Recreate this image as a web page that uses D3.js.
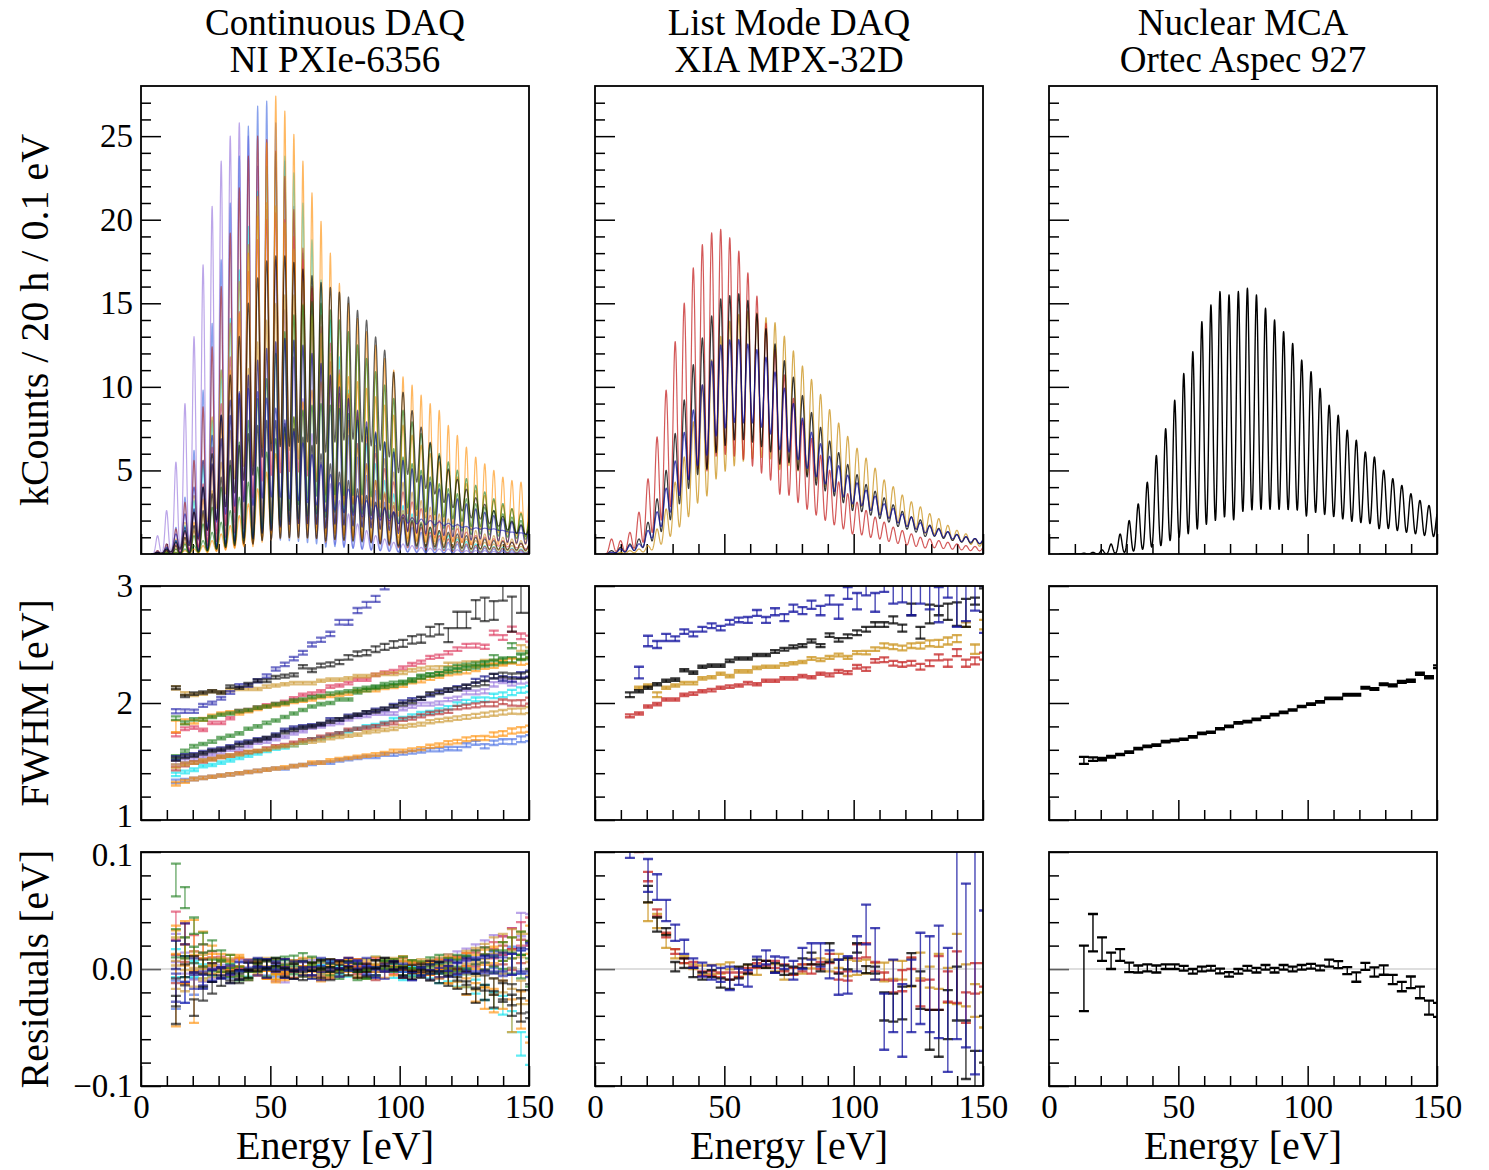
<!DOCTYPE html>
<html>
<head>
<meta charset="utf-8">
<script src="https://cdnjs.cloudflare.com/ajax/libs/d3/7.8.5/d3.min.js"></script>
<style>
  body { margin: 0; background: #fff; }
  svg text { font-family: "Liberation Serif", "Times New Roman", Times, serif; fill: #000; }
</style>
</head>
<body>
<svg id="fig" width="1489" height="1170"></svg>
<script>
// ---------------------------------------------------------------------------
// data
// ---------------------------------------------------------------------------

// photo-peak energies in eV, peak number n = 2 .. 43
const peakEnergy = [6.4, 9.9, 13.5, 17.0, 20.5, 24.0, 27.5, 31.0, 34.5, 38.0,
  41.5, 45.1, 48.6, 52.1, 55.6, 59.1, 62.6, 66.1, 69.6, 73.2,
  76.7, 80.2, 83.7, 87.2, 90.7, 94.2, 97.7, 101.3, 104.8, 108.3,
  111.8, 115.3, 118.8, 122.3, 125.8, 129.4, 132.9, 136.4, 139.9, 143.4,
  146.9, 150.4];
// FWHM / residual points are fitted for n = 4 .. 43
const fitEnergy = peakEnergy.slice(2);

const columnTitles = [
  ["Continuous DAQ", "NI PXIe-6356"],
  ["List Mode DAQ", "XIA MPX-32D"],
  ["Nuclear MCA", "Ortec Aspec 927"]
];
const energyTicks = [0, 50, 100, 150];
const countTicks = [5, 10, 15, 20, 25];
const fwhmTicks = [1, 2, 3];
const residTicks = [-0.1, 0, 0.1];

// --- column 1: continuous DAQ, peak amplitudes [kCounts] for n = 2..43 ---
const c1PurpleAmp = [1.1,2.6,5.5,9.0,13.0,17.3,20.8,23.5,25.0,25.8,25.0,23.2,20.6,17.6,14.6,11.8,9.3,7.2,5.5,4.2,3.2,2.4,1.8,1.4,1.1,0.9,0.7,0.6,0.5,0.4,0.35,0.3,0.3,0.25,0.2,0.2,0.2,0.15,0.15,0.1,0.1,0.1];
const c1RoyalAmp = [0.2,0.6,1.6,3.4,6.2,9.8,13.8,17.6,21.0,23.8,25.6,26.8,27.1,25.8,23.5,20.8,18.0,15.3,12.8,10.6,8.7,7.1,5.8,4.7,3.8,3.1,2.5,2.0,1.6,1.3,1.1,0.9,0.7,0.6,0.5,0.4,0.35,0.3,0.25,0.2,0.18,0.15];
const c1CyanAmp = [0.1,0.3,0.8,1.7,3.2,5.3,8.0,11.0,14.1,17.0,19.6,21.7,23.2,24.0,23.8,22.8,21.0,18.8,16.4,14.0,11.8,9.8,8.1,6.6,5.4,4.4,3.6,2.9,2.4,1.9,1.6,1.3,1.1,0.9,0.75,0.6,0.5,0.45,0.4,0.35,0.3,0.25];
const c1FirebrickAmp = [0.2,0.6,1.5,3.1,5.6,8.8,12.4,16.0,19.2,21.9,23.8,25.0,24.8,24.1,22.6,20.6,18.3,15.9,13.6,11.5,9.6,8.0,6.6,5.4,4.4,3.6,2.9,2.4,1.9,1.6,1.3,1.1,0.9,0.75,0.6,0.5,0.45,0.4,0.35,0.3,0.25,0.2];
const c1CrimsonAmp = [0.1,0.2,0.6,1.3,2.5,4.2,6.4,9.0,11.8,14.5,16.9,18.8,20.0,20.4,20.0,19.0,17.6,16.0,14.3,12.6,11.0,9.5,8.2,7.0,6.0,5.1,4.3,3.7,3.1,2.7,2.3,2.0,1.7,1.5,1.3,1.1,1.0,0.9,0.8,0.7,0.6,0.55];
const c1GoldAmp = [0.1,0.3,0.9,1.9,3.5,5.6,8.2,11.0,13.8,16.3,18.5,20.2,21.0,20.8,19.8,18.2,16.3,14.3,12.3,10.5,8.9,7.5,6.3,5.3,4.4,3.7,3.1,2.6,2.2,1.9,1.6,1.4,1.2,1.0,0.9,0.8,0.7,0.6,0.55,0.5,0.45,0.4];
const c1Gold2Amp = [0,0.1,0.3,0.7,1.4,2.4,3.8,5.5,7.4,9.3,11.1,12.7,14.0,15.0,15.5,15.5,15.0,14.2,13.2,12.0,10.8,9.6,8.5,7.5,6.5,5.7,4.9,4.3,3.7,3.2,2.8,2.4,2.1,1.8,1.6,1.4,1.2,1.1,1.0,0.9,0.8,0.7];
const c1OrangeAmp = [0.1,0.2,0.5,1.0,1.9,3.3,5.3,7.9,11.0,14.4,18.0,21.4,24.6,27.4,26.5,25.1,23.5,21.6,19.9,18.0,16.2,15.0,14.1,13.3,12.5,11.7,11.0,10.6,10.1,9.5,9.0,8.6,7.7,7.1,6.4,5.8,5.4,5.0,4.6,4.4,4.3,4.0];
const c1DarkOrangeAmp = [0,0.05,0.1,0.2,0.3,0.5,0.8,1.2,1.7,2.3,3.0,3.9,4.9,6.0,7.2,8.2,9.1,9.8,10.3,10.6,10.7,10.6,10.3,9.9,9.4,8.9,8.3,7.7,7.1,6.5,6.0,5.5,5.0,4.6,4.2,3.8,3.5,3.2,2.9,2.7,2.5,2.3];
const c1GreenAmp = [0,0.1,0.3,0.6,1.1,1.8,2.8,4.0,5.3,6.7,8.0,9.3,10.5,12.0,13.3,14.3,14.9,15.1,15.0,14.6,14.0,13.3,12.5,11.7,10.9,10.1,9.3,8.6,7.9,7.2,6.6,6.0,5.5,5.0,4.5,4.1,3.7,3.3,3.0,2.7,2.4,2.2];
const c1Green2Amp = [0,0.05,0.1,0.3,0.5,0.8,1.3,1.9,2.6,3.4,4.3,5.2,6.1,6.9,7.6,8.2,8.6,8.9,9.0,8.9,8.7,8.4,8.0,7.6,7.2,6.7,6.3,5.8,5.4,5.0,4.6,4.2,3.9,3.6,3.3,3.0,2.8,2.6,2.4,2.2,2.0,1.9];
const c1NavyAmp = [0.1,0.3,0.8,1.6,2.7,4.0,5.4,6.9,8.3,9.6,10.7,11.6,12.3,12.7,12.9,12.8,12.5,12.0,11.4,10.7,10.0,9.3,8.6,7.9,7.3,6.7,6.1,5.6,5.1,4.7,4.3,3.9,3.6,3.3,3.0,2.7,2.5,2.3,2.1,1.9,1.7,1.6];
const c1Black2Amp = [0.1,0.2,0.5,1.0,1.7,2.6,3.6,4.6,5.6,6.5,7.2,7.7,8.0,8.0,7.8,7.5,7.0,6.5,6.0,5.4,4.9,4.4,3.9,3.5,3.1,2.8,2.5,2.2,2.0,1.8,1.6,1.4,1.3,1.2,1.1,1.0,0.9,0.8,0.75,0.7,0.65,0.6];
const c1BlueAmp = [0.1,0.4,1.2,2.4,4.0,5.6,7.1,8.3,9.2,9.7,9.9,9.7,9.3,8.7,8.0,7.3,6.6,5.9,5.3,4.7,4.2,3.8,3.4,3.1,2.8,2.6,2.4,2.2,2.0,1.9,1.8,1.7,1.6,1.5,1.4,1.3,1.25,1.2,1.1,1.0,0.95,0.9];
const c1BlackAmp = [0.1,0.3,0.7,1.4,2.5,4.0,6.0,8.3,10.7,13.0,15.0,16.5,17.5,17.8,17.8,17.4,17.0,16.6,16.2,15.9,15.6,15.3,14.5,13.9,12.9,12.1,10.8,9.6,8.5,7.5,6.6,5.8,5.0,4.4,3.8,3.3,2.9,2.5,2.2,1.9,1.7,1.5];

// --- column 1: FWHM [eV] for n = 4..43 ---
const c1BlueFwhm = [1.93,1.93,1.93,1.98,2.00,2.04,2.09,2.15,2.15,2.19,2.23,2.29,2.33,2.38,2.43,2.50,2.54,2.59,2.69,2.69,2.79,2.84,2.89,3.00,3.08,3.17,3.26,3.35,3.44,3.53,3.62,3.71,3.80,3.89,3.98,4.07,4.16,4.25,4.34,4.43];
const c1BlackFwhm = [2.13,2.06,2.08,2.09,2.10,2.09,2.14,2.13,2.16,2.19,2.19,2.22,2.23,2.24,2.31,2.28,2.32,2.33,2.35,2.39,2.42,2.43,2.46,2.48,2.50,2.51,2.54,2.55,2.61,2.63,2.58,2.71,2.71,2.80,2.80,2.79,2.94,2.76,2.89,2.92];
const c1GoldFwhm = [2.13,2.08,2.07,2.08,2.10,2.09,2.11,2.12,2.12,2.12,2.14,2.15,2.16,2.17,2.17,2.17,2.19,2.20,2.20,2.21,2.23,2.23,2.24,2.25,2.25,2.26,2.28,2.29,2.30,2.30,2.33,2.33,2.34,2.34,2.35,2.35,2.35,2.36,2.47,2.45];
const c1CrimsonFwhm = [1.73,1.78,1.79,1.77,1.83,1.83,1.87,1.93,1.94,1.96,1.98,1.99,2.01,2.04,2.07,2.08,2.10,2.14,2.15,2.17,2.20,2.20,2.24,2.26,2.27,2.30,2.33,2.35,2.39,2.40,2.43,2.46,2.49,2.49,2.48,2.60,2.56,2.63,2.57,2.55];
const c1DarkOrangeFwhm = [1.80,1.84,1.84,1.86,1.89,1.91,1.92,1.91,1.93,1.95,1.97,1.98,1.99,2.01,2.02,2.03,2.05,2.06,2.07,2.08,2.10,2.11,2.11,2.13,2.14,2.15,2.18,2.19,2.21,2.23,2.25,2.26,2.27,2.29,2.31,2.32,2.34,2.36,2.35,2.36];
const c1GreenFwhm = [1.54,1.59,1.63,1.65,1.67,1.70,1.72,1.74,1.78,1.80,1.83,1.85,1.88,1.91,1.94,1.97,1.99,2.00,2.03,2.03,2.09,2.11,2.13,2.14,2.15,2.17,2.19,2.23,2.24,2.25,2.29,2.31,2.32,2.33,2.34,2.39,2.37,2.49,2.40,2.42];
const c1NavyFwhm = [1.53,1.55,1.56,1.58,1.60,1.61,1.63,1.66,1.67,1.69,1.70,1.73,1.77,1.79,1.80,1.81,1.82,1.86,1.86,1.89,1.90,1.92,1.94,1.95,1.98,2.01,2.03,2.04,2.07,2.10,2.11,2.13,2.14,2.19,2.21,2.23,2.21,2.20,2.24,2.25];
const c1Black2Fwhm = [1.52,1.54,1.55,1.57,1.59,1.60,1.62,1.64,1.66,1.68,1.70,1.72,1.75,1.77,1.79,1.80,1.82,1.84,1.86,1.88,1.90,1.92,1.93,1.95,1.97,1.99,2.01,2.04,2.08,2.09,2.11,2.12,2.14,2.16,2.17,2.23,2.24,2.23,2.23,2.24];
const c1PurpleFwhm = [1.49,1.51,1.52,1.54,1.56,1.58,1.60,1.61,1.63,1.66,1.67,1.69,1.71,1.74,1.76,1.79,1.80,1.82,1.83,1.86,1.88,1.89,1.91,1.91,1.91,1.95,1.97,1.99,1.99,2.00,2.03,2.04,2.09,2.09,2.10,2.16,2.19,2.17,2.19,2.20];
const c1FirebrickFwhm = [1.44,1.47,1.49,1.50,1.52,1.54,1.55,1.57,1.58,1.59,1.61,1.63,1.64,1.66,1.68,1.69,1.71,1.73,1.74,1.77,1.78,1.79,1.80,1.82,1.83,1.86,1.87,1.89,1.91,1.92,1.93,1.96,1.97,1.98,1.99,1.99,2.01,2.00,2.00,2.02];
const c1CyanFwhm = [1.39,1.41,1.43,1.46,1.47,1.49,1.51,1.53,1.55,1.57,1.59,1.61,1.62,1.64,1.66,1.69,1.70,1.72,1.74,1.76,1.78,1.80,1.81,1.83,1.86,1.87,1.89,1.91,1.92,1.94,1.96,1.99,2.01,2.03,2.03,2.06,2.07,2.09,2.11,2.12];
const c1RoyalFwhm = [1.33,1.34,1.35,1.36,1.37,1.38,1.39,1.40,1.41,1.42,1.43,1.44,1.44,1.46,1.47,1.48,1.49,1.49,1.51,1.52,1.53,1.54,1.54,1.56,1.56,1.57,1.58,1.59,1.60,1.60,1.61,1.61,1.64,1.66,1.63,1.66,1.67,1.67,1.69,1.70];
const c1OrangeFwhm = [1.31,1.33,1.35,1.36,1.37,1.38,1.39,1.40,1.41,1.42,1.43,1.44,1.45,1.46,1.47,1.49,1.49,1.51,1.52,1.53,1.54,1.55,1.56,1.57,1.59,1.59,1.60,1.61,1.63,1.64,1.66,1.67,1.69,1.70,1.70,1.73,1.74,1.76,1.77,1.78];
const c1Gold2Fwhm = [1.46,1.48,1.49,1.51,1.52,1.54,1.55,1.56,1.58,1.59,1.60,1.62,1.63,1.64,1.66,1.67,1.68,1.70,1.71,1.72,1.73,1.75,1.76,1.77,1.78,1.80,1.81,1.82,1.84,1.85,1.86,1.87,1.88,1.89,1.90,1.91,1.92,1.93,1.93,1.94];
const c1Green2Fwhm = [1.87,1.83,1.86,1.86,1.88,1.90,1.91,1.93,1.94,1.96,1.97,1.99,2.00,2.02,2.03,2.05,2.06,2.08,2.09,2.10,2.12,2.13,2.14,2.16,2.17,2.18,2.20,2.22,2.24,2.25,2.27,2.28,2.30,2.31,2.33,2.34,2.36,2.37,2.39,2.40];

// FWHM uncertainties [eV]
const c1FwhmErr = [0.015,0.012,0.011,0.01,0.01,0.01,0.01,0.01,0.01,0.01,0.01,0.01,0.01,0.01,0.01,0.01,0.01,0.01,0.01,0.01,0.01,0.01,0.011,0.011,0.012,0.012,0.012,0.013,0.013,0.014,0.014,0.015,0.016,0.017,0.018,0.019,0.02,0.022,0.024,0.026];
const c1BlueFwhmErr = [0.018,0.015,0.014,0.013,0.012,0.012,0.012,0.012,0.013,0.013,0.014,0.014,0.015,0.015,0.016,0.017,0.018,0.019,0.02,0.021,0.022,0.024,0.026,0.028,0.03,0.03,0.03,0.03,0.03,0.03,0.03,0.03,0.03,0.03,0.03,0.03,0.03,0.03,0.03,0.03];
const c1BlackFwhmErr = [0.012,0.01,0.01,0.01,0.01,0.01,0.01,0.01,0.011,0.011,0.012,0.012,0.013,0.013,0.014,0.015,0.016,0.017,0.018,0.019,0.02,0.022,0.024,0.026,0.028,0.03,0.032,0.035,0.04,0.045,0.06,0.07,0.07,0.08,0.1,0.08,0.065,0.15,0.12,0.15];
const c1DarkOrangeFwhmErr = [0.05,0.02,0.015,0.012,0.01,0.01,0.01,0.01,0.01,0.01,0.01,0.01,0.01,0.01,0.01,0.01,0.01,0.01,0.01,0.01,0.01,0.01,0.011,0.011,0.012,0.012,0.012,0.013,0.013,0.014,0.014,0.015,0.016,0.017,0.018,0.019,0.02,0.022,0.024,0.026];

// --- column 1: residuals [meV] for n = 4..43 ---
const c1BlueRes = [-16,-20,-10,-8,-5,-3,-1,2,4,-2,5,3,-4,-5,3,-2,6,4,-3,2,4,6,-2,-5,3,1,-6,-3,-5,-3,-2,0,2,4,3,5,2,4,6,5];
const c1BlackRes = [-35,2,-33,-21,-16,-10,-6,-8,-4,2,4,6,-3,-5,-6,2,4,5,3,-2,-4,1,4,6,3,-2,-5,-4,-6,-8,-10,-12,-16,-23,-20,-26,-20,-31,-35,-30];
const c1GoldRes = [15,18,8,6,4,5,3,-2,-4,3,6,-1,-4,2,4,6,-2,-4,1,5,2,-3,1,4,6,3,4,5,4,6,8,5,10,12,15,20,22,25,20,18];
const c1CrimsonRes = [37,30,22,15,10,6,4,5,3,-2,-4,2,5,1,-3,-2,4,-5,-3,2,5,1,6,3,-1,-4,0,2,3,4,5,6,8,10,12,16,20,26,30,32];
const c1DarkOrangeRes = [25,12,5,3,8,4,2,6,3,-2,-5,-6,-1,4,6,-3,-7,-1,3,1,-4,5,7,2,-2,3,2,3,1,4,6,4,8,6,10,12,15,18,22,25];
const c1GreenRes = [76,61,37,26,20,12,8,-2,-6,5,-3,4,7,8,10,7,3,-2,-5,2,-6,-4,-2,4,5,7,4,3,6,8,5,7,6,10,12,9,15,18,22,12];
const c1NavyRes = [12,30,2,-11,-6,-4,-8,-5,2,6,-4,1,5,3,-2,-5,-6,2,4,6,3,-2,-4,1,3,-3,-6,-2,0,2,3,1,4,2,5,3,6,4,8,10];
const c1Black2Res = [-20,-5,4,2,0,-3,-8,-5,2,4,5,2,-4,1,3,-2,-4,-6,0,3,1,-3,4,6,2,-4,0,1,3,2,-2,-5,-8,-10,-12,-15,-18,-22,-28,-25];
const c1PurpleRes = [18,5,-2,-5,-3,-1,3,4,5,-2,-4,-7,-8,-4,2,4,1,-5,-3,2,4,0,-3,2,5,3,0,-2,3,5,8,10,12,15,18,22,20,26,38,35];
const c1FirebrickRes = [0,-3,4,8,5,2,-2,-4,-6,1,3,5,-1,-4,3,2,-3,1,4,6,-1,-4,-6,2,3,6,2,0,-1,-4,2,5,3,8,6,10,12,8,15,12];
const c1CyanRes = [5,2,0,-2,-1,3,1,-4,-3,2,4,-1,5,3,-2,-4,0,3,-1,-3,2,5,7,3,-4,-6,-2,0,-4,-8,-6,-10,-10,-15,-20,-27,-31,-45,-64,-70];
const c1RoyalRes = [-22,-20,-15,-10,-6,-3,-4,2,3,5,-2,-3,1,4,5,2,-1,-4,2,3,5,-1,-3,3,1,-4,-1,0,2,1,4,3,6,2,5,8,4,10,6,8];
const c1OrangeRes = [-8,14,-2,12,8,5,6,7,4,2,-5,-8,-6,-4,-2,1,-5,-3,2,4,5,3,-2,-4,5,7,3,1,0,-2,-6,-10,-15,-20,-25,-27,-22,-40,-35,-45];
const c1Gold2Res = [-5,-10,-8,-4,-2,2,5,6,3,-1,-4,-5,1,3,-1,-4,2,5,3,-2,-3,-5,-2,1,3,5,0,-3,-5,-4,-8,-6,-10,-12,-9,-15,-12,-8,-20,-18];
const c1Green2Res = [22,18,12,8,3,2,-3,-6,-4,1,3,6,4,-1,-3,2,5,1,-3,3,1,-5,-2,3,1,-2,-3,-2,0,2,1,3,5,2,6,4,8,5,2,-3];

// residual uncertainties [meV]
const c1ResErr = [12,9,7,6,5,4.5,4,4,3.5,3.5,3.5,3.5,3.5,3.5,3.5,3.5,3.5,3.5,3.5,3.5,3.5,3.5,3.5,3.5,3.5,3.5,3.5,3.5,4,4,4.5,5,5.5,6,6.5,7,8,9,10,12];
const c1OrangeResErr = [41,27,44,20,12,8,6,5,4,4,3.5,3.5,3.5,3.5,3.5,3.5,3.5,3.5,3.5,3.5,3.5,3.5,3.5,3.5,3.5,4,4,4,5,5,6,6,7,8,9,10,12,14,16,18];
const c1GreenResErr = [14,9,7,5,4.5,4,4,4,3.5,3.5,3.5,3.5,3.5,3.5,3.5,3.5,3.5,3.5,3.5,3.5,3.5,3.5,3.5,3.5,3.5,3.5,3.5,3.5,4,4,4.5,5,5.5,6,6.5,7,8,9,10,12];

// --- column 2: list mode DAQ ---
const c2GoldAmp = [0,0.1,0.2,0.3,0.5,1.5,2.7,4.3,5.8,7.9,10.1,11.6,13.0,13.9,14.3,14.5,14.4,14.1,13.8,13.0,12.1,11.2,10.4,9.5,8.6,7.8,7.0,6.3,5.7,5.1,4.4,4.0,3.5,3.1,2.8,2.4,2.1,1.7,1.4,1.2,0.9,0.8];
const c2RedAmp = [0.9,0.8,1.3,2.5,4.5,7.0,9.8,12.7,15.0,17.1,18.5,19.2,19.4,18.9,18.1,16.8,15.4,13.8,12.2,10.7,9.3,8.0,6.9,5.9,5.0,4.3,3.6,3.1,2.6,2.2,1.9,1.6,1.4,1.2,1.0,0.9,0.8,0.7,0.6,0.5,0.45,0.4];
const c2BlackAmp = [0.2,0.4,0.6,0.9,1.9,3.3,5.0,7.2,9.2,11.3,12.9,14.2,15.2,15.4,15.5,15.1,14.3,13.4,12.5,11.5,10.5,9.4,8.4,7.5,6.7,6.0,5.3,4.7,4.1,3.7,3.3,2.9,2.5,2.2,2.0,1.7,1.5,1.3,1.15,1.0,0.9,0.8];
const c2BlueAmp = [0.1,0.3,0.5,0.6,1.4,2.5,3.9,5.5,7.2,8.5,10.0,11.4,12.3,12.6,12.6,12.3,12.0,11.5,10.7,9.7,8.8,7.9,7.1,6.4,5.7,5.1,4.6,4.1,3.7,3.3,2.9,2.6,2.3,2.1,1.8,1.6,1.4,1.3,1.1,1.0,0.9,0.85];

const c2BlueFwhm = [null,2.26,2.53,2.50,2.56,2.55,2.61,2.59,2.63,2.66,2.64,2.69,2.71,2.71,2.77,2.71,2.78,2.73,2.81,2.79,2.84,2.79,2.88,2.78,2.94,2.87,3.00,2.86,3.05,2.95,2.98,2.90,3.05,3.00,2.84,3.05,2.85,2.90,2.99,2.80];
const c2BlueFwhmErr = [null,0.05,0.045,0.03,0.03,0.02,0.02,0.02,0.02,0.02,0.02,0.02,0.02,0.025,0.025,0.025,0.03,0.03,0.03,0.03,0.035,0.04,0.04,0.06,0.05,0.07,0.08,0.08,0.1,0.1,0.12,0.15,0.2,0.2,0.15,0.15,0.2,0.2,0.2,0.2];
const c2BlackFwhm = [2.07,2.10,2.13,2.16,2.19,2.20,2.28,2.26,2.31,2.32,2.32,2.36,2.38,2.38,2.41,2.41,2.44,2.46,2.48,2.49,2.53,2.49,2.58,2.54,2.57,2.60,2.63,2.67,2.67,2.71,2.64,2.80,2.60,2.76,2.79,2.78,2.76,2.77,2.87,2.88];
const c2BlackFwhmErr = [0.02,0.01,0.01,0.01,0.01,0.01,0.01,0.01,0.01,0.01,0.01,0.01,0.01,0.01,0.01,0.01,0.012,0.012,0.012,0.012,0.013,0.013,0.015,0.015,0.016,0.02,0.02,0.02,0.02,0.03,0.03,0.05,0.05,0.08,0.04,0.07,0.1,0.12,0.03,0.1];
const c2GoldFwhm = [null,2.13,2.15,2.07,2.13,2.15,2.17,2.17,2.21,2.22,2.25,2.23,2.27,2.27,2.30,2.31,2.31,2.33,2.34,2.35,2.38,2.37,2.39,2.41,2.39,2.43,2.43,2.46,2.49,2.48,2.47,2.49,2.49,2.51,2.51,2.53,2.55,2.67,2.46,2.67];
const c2GoldFwhmErr = [null,0.01,0.01,0.02,0.01,0.01,0.01,0.01,0.01,0.01,0.01,0.01,0.01,0.01,0.01,0.01,0.01,0.01,0.01,0.01,0.012,0.012,0.012,0.012,0.012,0.013,0.015,0.015,0.02,0.02,0.02,0.02,0.025,0.025,0.03,0.03,0.03,0.02,0.04,0.04];
const c2RedFwhm = [1.89,1.91,1.97,1.99,2.03,2.03,2.07,2.08,2.10,2.11,2.13,2.14,2.15,2.17,2.16,2.19,2.19,2.21,2.21,2.23,2.22,2.25,2.24,2.27,2.26,2.31,2.29,2.36,2.37,2.34,2.33,2.34,2.31,2.34,2.39,2.34,2.43,2.34,2.36,2.40];
const c2RedFwhmErr = [0.012,0.01,0.01,0.01,0.01,0.01,0.01,0.01,0.01,0.01,0.01,0.01,0.01,0.01,0.01,0.01,0.01,0.01,0.01,0.01,0.01,0.01,0.012,0.012,0.012,0.015,0.015,0.015,0.02,0.02,0.02,0.02,0.025,0.025,0.025,0.03,0.03,0.03,0.03,0.03];

const c2BlueRes = [105,120,80,70,50,31,19,5,-0.6,-3,-5,-8,-6.6,-8,6.6,10,3.7,5,-1,9,15,12,4,-7,-5,13,38,13,-45,-23,-44,-23,-8,-13,-11,-35,30,3,20,-10];
const c2BlueResErr = [10,14,14,11,9,7,6,4,6,6,6,10,7,7,4,6,7,5,8,9,7,10,12,15,16,15,17,22,24,31,31,31,39,41,48,53,90,70,110,60];
const c2BlackRes = [150,120,64,38,32,2,5,-3,-6,-4,-12,-13,-3,0,5,4,1,-1,-1,5,9,1,14,2,4.6,18,-0.5,-1,-32,-33,-29,-0.5,-18,-52,-55,-39,-21,-69,-95,-60];
const c2BlackResErr = [10,10,7,6,3,4,4,4,3,3,4,4,5,4,3,3,4,4,3,4,5,3,8,6,5,4,3,3,12,12,14,14,16,17,20,21,23,25,25,20];
const c2RedRes = [130,110,79,48,29,15,7,4,-4,-4,-5,-6,-5,-1,3,5,4,1,-2,1,0,3,9,-6,-6,15,16,2,-6,-15,-10,5,-21,-22,-12,-15,-7,-33,-8,-5];
const c2RedResErr = [10,10,4,3,2,2,2,2,2,2,2,3,2,2,2,2,3,3,3,3,4,3,4,3,4,6,6,4,3,5,9,5,11,13,23,13,22,13,13,10];
const c2GoldRes = [140,115,49,41,24,13,8,2,-1,-0.5,0,2.6,-2.6,-0.5,-1,4,1,-5,-2,0,4.6,6,3,7,1,1,2,-2,-2.6,-0.5,-1,-3,3,-7,-2,-14,0,-14,-27,-35];
const c2GoldResErr = [12,10,8,6,6,4,3,2,4,4,4,3,4,4,4,3,3,4,3,4,4,3,5,6,7,6,6,7,8,8,8,12,11,9,15,15,30,18,14,15];

// --- column 3: nuclear MCA ---
const c3Amp = [0,0,0.05,0.1,0.25,0.6,1.2,2.0,3.0,4.3,5.9,7.5,9.2,10.8,12.1,13.9,14.9,15.7,15.5,15.7,15.9,15.5,14.7,14.0,13.3,12.6,11.6,10.9,9.9,8.9,8.3,7.4,6.8,6.1,5.8,5.0,4.5,4.1,3.6,3.2,2.9,2.6];
const c3Fwhm = [1.51,1.52,1.52,1.54,1.56,1.58,1.61,1.63,1.64,1.67,1.68,1.69,1.71,1.74,1.75,1.78,1.80,1.83,1.84,1.86,1.88,1.90,1.92,1.94,1.97,1.99,2.01,2.04,2.04,2.07,2.07,2.13,2.12,2.16,2.15,2.18,2.19,2.25,2.22,2.31];
const c3FwhmErr = [0.03,0.015,0.01,0.007,0.006,0.006,0.006,0.006,0.006,0.006,0.006,0.006,0.006,0.006,0.006,0.006,0.006,0.006,0.006,0.006,0.006,0.006,0.006,0.006,0.006,0.006,0.006,0.006,0.006,0.007,0.007,0.007,0.007,0.008,0.008,0.008,0.009,0.01,0.01,0.012];
const c3Res = [-8,31,17,7,12,1.4,0,1,0,2,2,0.6,-2,0,0.6,-1.7,-4.6,-2,0.6,-1,1.4,-1,1.4,0,1.4,2.3,0.9,5,3.7,-1.4,-6.9,2.3,-2.6,-0.9,-9,-15,-11.4,-20,-33,-35];
const c3ResErr = [28,16,10,7,5,4,3,3,3,2,2,2,2,2,2,2,2,2,2,2,2,2,2,2,2,2,2,3,3,3,4,3,4,4,4,4,5,5,6,6];

// series tables (drawing order = list order)
const columns = [
  { opacity: 0.62, series: [
    { color: "#9370db", amp: c1PurpleAmp, fwhm: c1PurpleFwhm, fwhmErr: c1FwhmErr, res: c1PurpleRes, resErr: c1ResErr },
    { color: "#4169e1", amp: c1RoyalAmp, fwhm: c1RoyalFwhm, fwhmErr: c1FwhmErr, res: c1RoyalRes, resErr: c1ResErr },
    { color: "#00e0ee", amp: c1CyanAmp, fwhm: c1CyanFwhm, fwhmErr: c1FwhmErr, res: c1CyanRes, resErr: c1ResErr },
    { color: "#b22222", amp: c1FirebrickAmp, fwhm: c1FirebrickFwhm, fwhmErr: c1FwhmErr, res: c1FirebrickRes, resErr: c1ResErr },
    { color: "#dc2f55", amp: c1CrimsonAmp, fwhm: c1CrimsonFwhm, fwhmErr: c1FwhmErr, res: c1CrimsonRes, resErr: c1ResErr },
    { color: "#c9952a", amp: c1GoldAmp, fwhm: c1GoldFwhm, fwhmErr: c1FwhmErr, res: c1GoldRes, resErr: c1ResErr },
    { color: "#c9952a", amp: c1Gold2Amp, fwhm: c1Gold2Fwhm, fwhmErr: c1FwhmErr, res: c1Gold2Res, resErr: c1ResErr },
    { color: "#ff8c00", amp: c1OrangeAmp, fwhm: c1OrangeFwhm, fwhmErr: c1FwhmErr, res: c1OrangeRes, resErr: c1OrangeResErr },
    { color: "#ff8c00", amp: c1DarkOrangeAmp, fwhm: c1DarkOrangeFwhm, fwhmErr: c1DarkOrangeFwhmErr, res: c1DarkOrangeRes, resErr: c1ResErr },
    { color: "#1a7a1a", amp: c1GreenAmp, fwhm: c1GreenFwhm, fwhmErr: c1FwhmErr, res: c1GreenRes, resErr: c1GreenResErr },
    { color: "#1a7a1a", amp: c1Green2Amp, fwhm: c1Green2Fwhm, fwhmErr: c1FwhmErr, res: c1Green2Res, resErr: c1ResErr },
    { color: "#000080", amp: c1NavyAmp, fwhm: c1NavyFwhm, fwhmErr: c1FwhmErr, res: c1NavyRes, resErr: c1ResErr },
    { color: "#111111", amp: c1Black2Amp, fwhm: c1Black2Fwhm, fwhmErr: c1FwhmErr, res: c1Black2Res, resErr: c1ResErr },
    { color: "#1f1fa8", amp: c1BlueAmp, fwhm: c1BlueFwhm, fwhmErr: c1BlueFwhmErr, res: c1BlueRes, resErr: c1ResErr },
    { color: "#000000", amp: c1BlackAmp, fwhm: c1BlackFwhm, fwhmErr: c1BlackFwhmErr, res: c1BlackRes, resErr: c1ResErr }
  ]},
  { opacity: 0.78, series: [
    { color: "#cc9520", amp: c2GoldAmp, fwhm: c2GoldFwhm, fwhmErr: c2GoldFwhmErr, res: c2GoldRes, resErr: c2GoldResErr },
    { color: "#c62a2a", amp: c2RedAmp, fwhm: c2RedFwhm, fwhmErr: c2RedFwhmErr, res: c2RedRes, resErr: c2RedResErr },
    { color: "#000000", amp: c2BlackAmp, fwhm: c2BlackFwhm, fwhmErr: c2BlackFwhmErr, res: c2BlackRes, resErr: c2BlackResErr },
    { color: "#1515a0", amp: c2BlueAmp, fwhm: c2BlueFwhm, fwhmErr: c2BlueFwhmErr, res: c2BlueRes, resErr: c2BlueResErr }
  ]},
  { opacity: 1, series: [
    { color: "#000000", amp: c3Amp, fwhm: c3Fwhm, fwhmErr: c3FwhmErr, res: c3Res, resErr: c3ResErr }
  ]}
];

// ---------------------------------------------------------------------------
// layout
// ---------------------------------------------------------------------------
const colLeft = [141, 595, 1049];
const panelW = 388;
const fontFam = '"Liberation Serif","Times New Roman",Times,serif';

const yScales = [
  d3.scaleLinear().domain([0, 28]).range([554, 86]),
  d3.scaleLinear().domain([1, 3]).range([820, 586]),
  d3.scaleLinear().domain([-0.1, 0.1]).range([1086, 852])
];
const yMajor = [countTicks, fwhmTicks, residTicks];
const yMinor = [
  d3.range(1, 28).filter(v => v % 5 !== 0),
  d3.range(1.2, 2.9, 0.2).filter(v => Math.abs(v - 2) > 1e-6),
  d3.range(-0.08, 0.09, 0.02).filter(v => Math.abs(v) > 1e-6)
];
const yFormat = [d3.format("d"), d3.format("d"), d3.format(".1f")];
const yTitles = ["kCounts / 20 h / 0.1 eV", "FWHM [eV]", "Residuals [eV]"];
const xMinor = d3.range(10, 150, 10).filter(v => v % 50 !== 0);

const sampleE = d3.range(4, 150.05, 0.1);
const svg = d3.select("#fig");

function nearestValid(arr, i) {
  for (let d = 0; d < arr.length; d++) {
    if (arr[i - d] != null) return arr[i - d];
    if (arr[i + d] != null) return arr[i + d];
  }
  return 2;
}

// sum of gaussian photo-peaks, widths taken from the fitted FWHM values
function spectrum(amp, fwhm) {
  const sig = peakEnergy.map((e, i) => nearestValid(fwhm, Math.max(0, Math.min(fwhm.length - 1, i - 2))) / 2.3548);
  return sampleE.map(e => [e, d3.sum(peakEnergy, (pe, i) => amp[i] * Math.exp(-((e - pe) ** 2) / (2 * sig[i] * sig[i])))]);
}

function errorBars(layer, x, y, values, errs, scale, color, opacity) {
  const vp = d3.path(), cp = d3.path();
  fitEnergy.forEach((e, i) => {
    if (values[i] == null) return;
    const v = values[i] * scale, s = errs[i] * scale;
    const px = x(e), y1 = y(v - s), y2 = y(v + s);
    vp.moveTo(px, y1); vp.lineTo(px, y2);
    cp.moveTo(px - 5, y1); cp.lineTo(px + 5, y1);
    cp.moveTo(px - 5, y2); cp.lineTo(px + 5, y2);
  });
  layer.append("path").attr("d", vp.toString()).attr("fill", "none")
    .attr("stroke", color).attr("stroke-width", 1.4).attr("stroke-opacity", opacity);
  layer.append("path").attr("d", cp.toString()).attr("fill", "none")
    .attr("stroke", color).attr("stroke-width", 2.3).attr("stroke-opacity", opacity);
}

function styleAxis(sel) {
  sel.select(".domain").remove();
  sel.selectAll(".tick line").attr("stroke", "#000").attr("stroke-width", 1.5);
}

columns.forEach((col, c) => {
  const x = d3.scaleLinear().domain([0, 150]).range([colLeft[c], colLeft[c] + panelW]);
  const cx = colLeft[c] + panelW / 2;

  // column title
  svg.append("text").attr("x", cx).attr("y", 35).attr("text-anchor", "middle")
    .attr("font-size", 37).text(columnTitles[c][0]);
  svg.append("text").attr("x", cx).attr("y", 72).attr("text-anchor", "middle")
    .attr("font-size", 37).text(columnTitles[c][1]);

  yScales.forEach((y, r) => {
    const top = y.range()[1], bottom = y.range()[0];
    const clipId = `clip-${c}-${r}`;
    svg.append("clipPath").attr("id", clipId).append("rect")
      .attr("x", colLeft[c]).attr("y", top).attr("width", panelW).attr("height", bottom - top);

    // inward ticks
    svg.append("g").attr("transform", `translate(0,${bottom})`)
      .call(d3.axisTop(x).tickValues(xMinor).tickSize(10).tickFormat("")).call(styleAxis);
    svg.append("g").attr("transform", `translate(0,${bottom})`)
      .call(d3.axisTop(x).tickValues(energyTicks).tickSize(20).tickFormat("")).call(styleAxis);
    svg.append("g").attr("transform", `translate(${colLeft[c]},0)`)
      .call(d3.axisRight(y).tickValues(yMinor[r]).tickSize(10).tickFormat("")).call(styleAxis);
    svg.append("g").attr("transform", `translate(${colLeft[c]},0)`)
      .call(d3.axisRight(y).tickValues(yMajor[r]).tickSize(20).tickFormat("")).call(styleAxis);

    // tick labels
    if (c === 0) {
      const lab = svg.append("g").attr("transform", `translate(${colLeft[c]},0)`)
        .call(d3.axisLeft(y).tickValues(yMajor[r]).tickSize(0).tickPadding(8).tickFormat(yFormat[r]))
        .call(g => g.select(".domain").remove())
        .attr("font-family", fontFam).attr("font-size", 33);
      // keep the labels at the shared panel edges apart
      if (r === 1) lab.selectAll(".tick text").filter(d => d === 1).attr("y", -4);
      if (r === 2) lab.selectAll(".tick text").filter(d => d === 0.1).attr("y", 3);
      svg.append("text").attr("transform", `translate(48,${(top + bottom) / 2}) rotate(-90)`)
        .attr("text-anchor", "middle").attr("font-size", 40).text(yTitles[r]);
    }
    if (r === 2) {
      svg.append("g").attr("transform", `translate(0,${bottom})`)
        .call(d3.axisBottom(x).tickValues(energyTicks).tickSize(0).tickPadding(9).tickFormat(d3.format("d")))
        .call(g => g.select(".domain").remove())
        .attr("font-family", fontFam).attr("font-size", 33);
      svg.append("text").attr("x", cx).attr("y", 1159).attr("text-anchor", "middle")
        .attr("font-size", 40).text("Energy [eV]");
    }

    const layer = svg.append("g").attr("clip-path", `url(#${clipId})`);

    if (r === 2) {
      layer.append("line").attr("x1", x(0)).attr("x2", x(150)).attr("y1", y(0)).attr("y2", y(0))
        .attr("stroke", "#bdbdbd").attr("stroke-width", 1.2);
    }

    col.series.forEach(s => {
      if (r === 0) {
        const line = d3.line().x(d => x(d[0])).y(d => y(d[1]));
        layer.append("path").datum(spectrum(s.amp, s.fwhm))
          .attr("fill", "none").attr("stroke", s.color)
          .attr("stroke-width", c === 2 ? 1.4 : 1.2)
          .attr("stroke-opacity", col.opacity)
          .attr("stroke-linejoin", "round")
          .attr("d", line);
      } else if (r === 1) {
        errorBars(layer, x, y, s.fwhm, s.fwhmErr, 1, s.color, col.opacity);
      } else {
        errorBars(layer, x, y, s.res, s.resErr, 0.001, s.color, col.opacity);
      }
    });

    // frame
    svg.append("rect").attr("x", colLeft[c]).attr("y", top).attr("width", panelW).attr("height", bottom - top)
      .attr("fill", "none").attr("stroke", "#000").attr("stroke-width", 1.8);
  });
});
</script>
</body>
</html>
